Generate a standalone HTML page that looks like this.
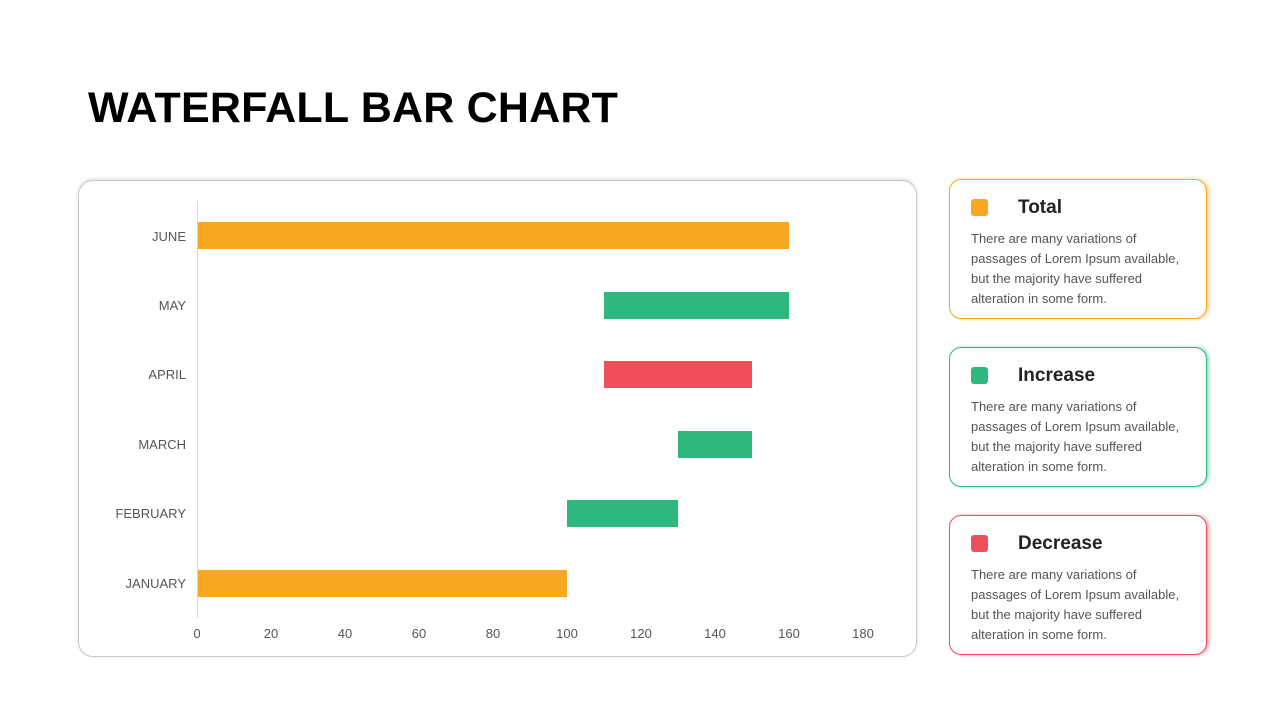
<!DOCTYPE html>
<html><head><meta charset="utf-8"><style>
body{margin:0;width:1280px;height:720px;background:#fff;font-family:"Liberation Sans",sans-serif;position:relative;overflow:hidden}
.t{position:absolute;left:88px;top:84px;font-size:43px;font-weight:bold;color:#000;letter-spacing:0.2px}
.box{position:absolute;left:78px;top:180px;width:837px;height:475px;border:1px solid #c8c8c8;border-radius:15px;box-shadow:0 -1px 3px rgba(0,0,0,.15)}
.ax{position:absolute;left:197px;top:201px;width:1px;height:417px;background:#d9d9d9}
.b{position:absolute;height:27px}
.yl{position:absolute;right:1094px;font-size:13px;color:#555;text-align:right}
.xl{position:absolute;top:626px;font-size:13px;color:#555;width:40px;margin-left:-20px;text-align:center}
.c{position:absolute;left:949px;width:256px;height:138px;border:1px solid;border-radius:12px;background:#fff}
.sq{position:absolute;left:21px;top:19px;width:17px;height:17px;border-radius:3px}
.h{position:absolute;left:68px;top:17px;font-size:19px;font-weight:bold;color:#222}
.p{position:absolute;left:21px;top:49px;width:230px;font-size:13px;line-height:20px;color:#555}
</style></head><body>
<div class="t">WATERFALL BAR CHART</div>
<div class="box"></div>
<div class="ax"></div>
<div class="b" style="left:198px;width:591px;top:222px;background:#f9a720"></div>
<div class="b" style="left:604px;width:185px;top:292px;background:#2eb87d"></div>
<div class="b" style="left:604px;width:148px;top:361px;background:#f04e5b"></div>
<div class="b" style="left:678px;width:74px;top:431px;background:#2eb87d"></div>
<div class="b" style="left:567px;width:111px;top:500px;background:#2eb87d"></div>
<div class="b" style="left:198px;width:369px;top:570px;background:#f9a720"></div>
<div class="yl" style="top:229px">JUNE</div>
<div class="yl" style="top:298px">MAY</div>
<div class="yl" style="top:367px">APRIL</div>
<div class="yl" style="top:437px">MARCH</div>
<div class="yl" style="top:506px">FEBRUARY</div>
<div class="yl" style="top:576px">JANUARY</div>
<div class="xl" style="left:197px">0</div><div class="xl" style="left:271px">20</div><div class="xl" style="left:345px">40</div><div class="xl" style="left:419px">60</div><div class="xl" style="left:493px">80</div><div class="xl" style="left:567px">100</div><div class="xl" style="left:641px">120</div><div class="xl" style="left:715px">140</div><div class="xl" style="left:789px">160</div><div class="xl" style="left:863px">180</div>
<div class="c" style="top:179px;border-color:#f9a720;box-shadow:2px 0 3px rgba(249,167,32,.5)"><div class="sq" style="background:#f9a720"></div><div class="h">Total</div><div class="p">There are many variations of<br>passages of Lorem Ipsum available,<br>but the majority have suffered<br>alteration in some form.</div></div>
<div class="c" style="top:347px;border-color:#2eb87d;box-shadow:2px 0 3px rgba(46,184,125,.5)"><div class="sq" style="background:#2eb87d"></div><div class="h">Increase</div><div class="p">There are many variations of<br>passages of Lorem Ipsum available,<br>but the majority have suffered<br>alteration in some form.</div></div>
<div class="c" style="top:515px;border-color:#f04e5b;box-shadow:2px 0 3px rgba(240,78,91,.5)"><div class="sq" style="background:#f04e5b"></div><div class="h">Decrease</div><div class="p">There are many variations of<br>passages of Lorem Ipsum available,<br>but the majority have suffered<br>alteration in some form.</div></div>
</body></html>
